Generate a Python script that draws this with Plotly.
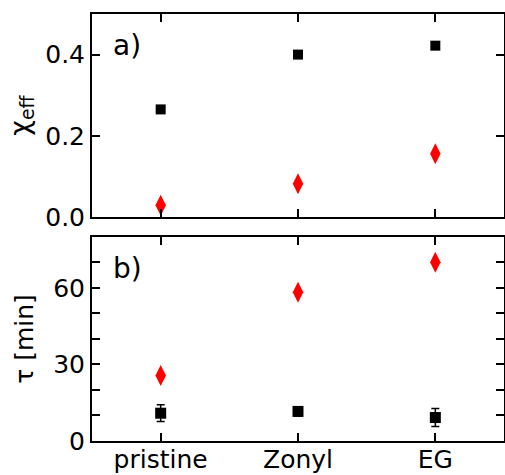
import plotly.graph_objects as go
from plotly.subplots import make_subplots

samples = ["pristine", "Zonyl", "EG"]

# effective susceptibility, two fit components
chi_black = [0.265, 0.400, 0.422]
chi_red = [0.029, 0.082, 0.156]

# time constants in minutes
tau_black = [10.9, 11.6, 9.2]
tau_black_err = [3.3, 1.8, 3.5]
tau_red = [25.7, 58.3, 70.1]

FONT = "DejaVu Sans"
TICK_SIZE = 25

fig = make_subplots(rows=2, cols=1, shared_xaxes=False, vertical_spacing=0.0)

sq = dict(symbol="square", size=10, color="black", line=dict(width=0))
dia = dict(symbol="diamond-tall", size=15, color="red", line=dict(width=0))

fig.add_trace(go.Scatter(x=samples, y=chi_black, mode="markers", marker=sq), row=1, col=1)
fig.add_trace(go.Scatter(x=samples, y=chi_red, mode="markers", marker=dia), row=1, col=1)
fig.add_trace(go.Scatter(x=samples, y=tau_red, mode="markers", marker=dia), row=2, col=1)
fig.add_trace(go.Scatter(x=samples, y=tau_black, mode="markers",
                         marker=dict(sq, size=11),
                         error_y=dict(type="data", array=tau_black_err, color="black",
                                      thickness=1.5, width=4)), row=2, col=1)

axis_common = dict(
    showline=True, linecolor="black", linewidth=2, mirror="allticks",
    ticks="inside", ticklen=8, tickwidth=1.5, tickcolor="black",
    showgrid=False, zeroline=False, automargin=False,
    tickfont=dict(family=FONT, size=TICK_SIZE, color="black"),
)

fig.update_xaxes(axis_common, type="category", range=[-0.5, 2.5])
fig.update_xaxes(showticklabels=False, row=1, col=1)
fig.update_xaxes(ticklabelstandoff=-5, row=2, col=1)
fig.update_yaxes(axis_common)

fig.update_layout(
    xaxis=dict(domain=[0, 1]),
    xaxis2=dict(domain=[0, 1]),
    yaxis=dict(domain=[0.5246, 1.0], range=[0, 0.5],
               tickmode="array", tickvals=[0, 0.2, 0.4], ticktext=["0.0", "0.2", "0.4"],
               title=dict(text="χ<sub>eff</sub>", standoff=8,
                          font=dict(family=FONT, size=27, color="black"))),
    yaxis2=dict(domain=[0.0, 0.4778], range=[0, 80],
                tickmode="linear", tick0=0, dtick=30,
                minor=dict(tickmode="linear", tick0=0, dtick=10, ticks="inside",
                           ticklen=8, tickwidth=1.5, tickcolor="black", showgrid=False),
                title=dict(text="τ [min]", standoff=12,
                           font=dict(family=FONT, size=25, color="black"))),
    width=505, height=475,
    margin=dict(l=92, r=1, t=14, b=34, autoexpand=False),
    plot_bgcolor="white", paper_bgcolor="white",
    showlegend=False,
    font=dict(family=FONT, color="black"),
)

fig.add_annotation(text="a)", xref="x domain", yref="y domain", x=0.045, y=0.845,
                   xanchor="left", yanchor="middle", showarrow=False,
                   font=dict(family=FONT, size=28, color="black"))
fig.add_annotation(text="b)", xref="x2 domain", yref="y2 domain", x=0.045, y=0.845,
                   xanchor="left", yanchor="middle", showarrow=False,
                   font=dict(family=FONT, size=28, color="black"))

fig.write_html("out.html")
